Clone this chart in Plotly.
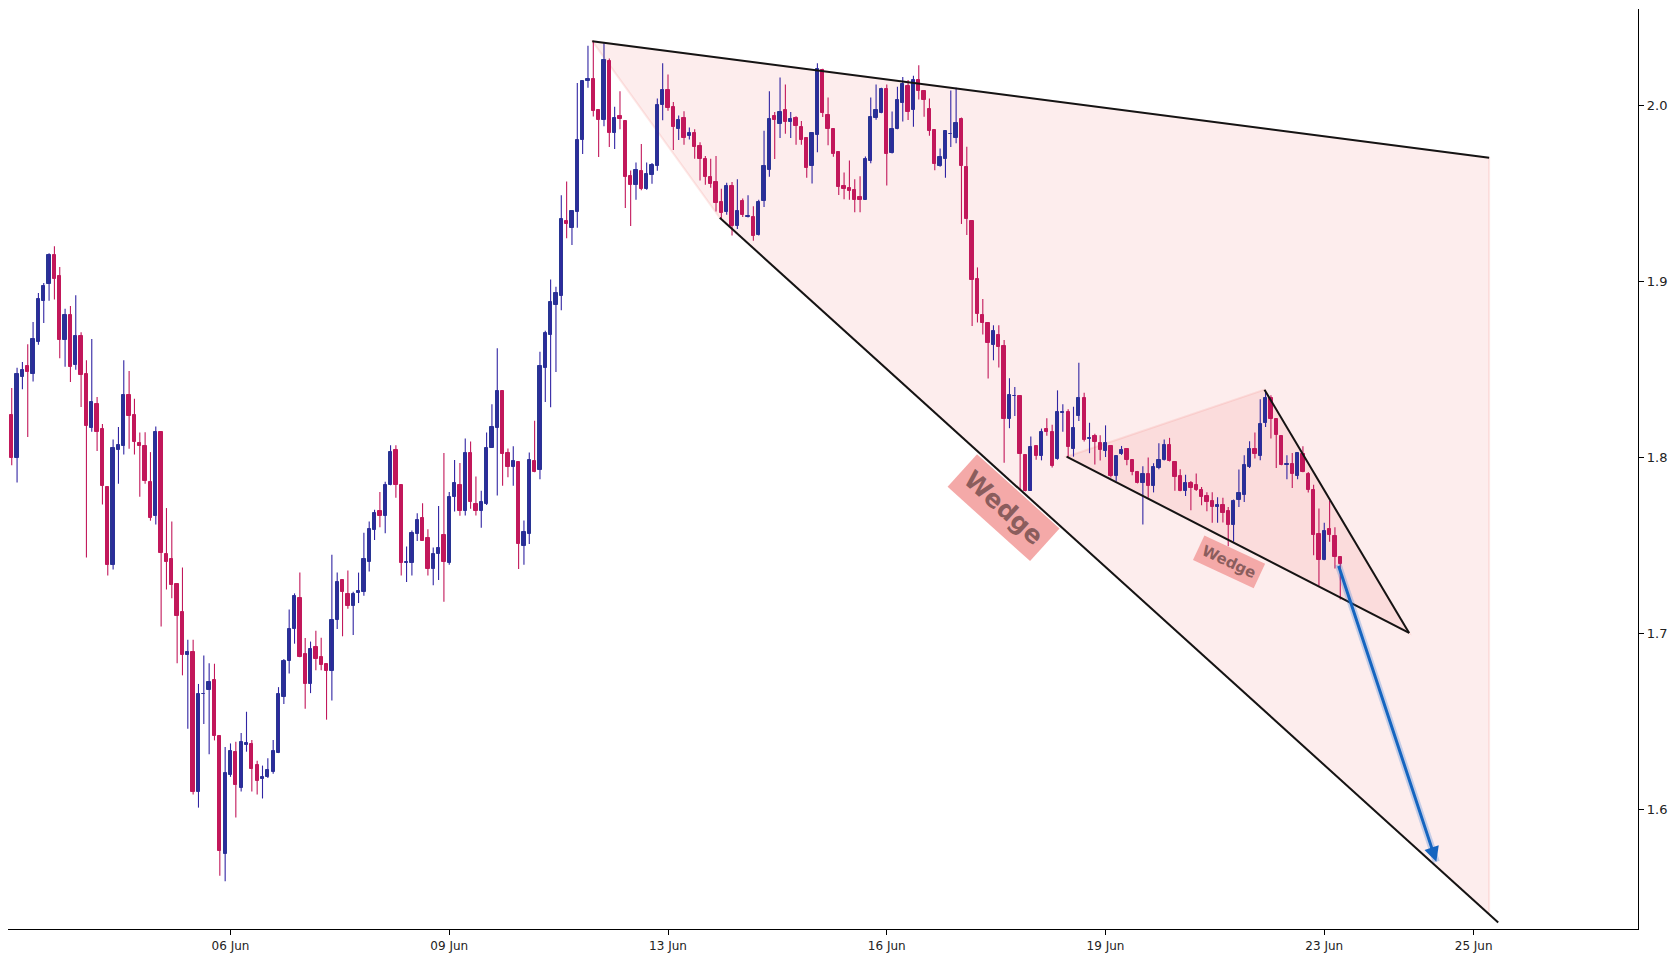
import plotly.graph_objects as go

# ---------------- data ----------------
opens = [
    1.8238, 1.7997, 1.8457, 1.8517, 1.8475, 1.8657, 1.8889, 1.8985, 1.9147, 1.9029,
    1.8667, 1.8807, 1.8526, 1.8689, 1.8472, 1.8167, 1.8302, 1.8159, 1.7829, 1.7388,
    1.8039, 1.8061, 1.8352, 1.8238, 1.8078, 1.8063, 1.7859, 1.7667, 1.8142, 1.7450,
    1.7420, 1.7280, 1.7120, 1.6878, 1.6893, 1.6099, 1.6652, 1.6679, 1.6733, 1.6415,
    1.5747, 1.6191, 1.6324, 1.6122, 1.6366, 1.6371, 1.6250, 1.6168, 1.6181, 1.6208,
    1.6321, 1.6639, 1.6839, 1.7023, 1.7198, 1.6881, 1.6708, 1.6920, 1.6863, 1.6824,
    1.6782, 1.7073, 1.7302, 1.7223, 1.7152, 1.7230, 1.7235, 1.7405, 1.7588, 1.7694,
    1.7667, 1.7842, 1.8041, 1.7842, 1.7400, 1.7400, 1.7561, 1.7654, 1.7541, 1.7366,
    1.7447, 1.7558, 1.7400, 1.7775, 1.7842, 1.7692, 1.8023, 1.7736, 1.7694, 1.7733,
    1.8055, 1.8164, 1.8379, 1.8023, 1.7944, 1.7970, 1.7498, 1.7564, 1.7979, 1.7929,
    1.8510, 1.8695, 1.8867, 1.8917, 1.9345, 1.9304, 1.9393, 1.9804, 2.0137, 2.0150,
    1.9976, 1.9919, 2.0252, 1.9843, 1.9937, 1.9911, 1.9597, 1.9549, 1.9628, 1.9523,
    1.9606, 1.9654, 2.0002, 2.0085, 1.9989, 1.9865, 1.9926, 1.9826, 1.9841, 1.9767,
    1.9697, 1.9593, 1.9565, 1.9450, 1.9395, 1.9541, 1.9315, 1.9458, 1.9365, 1.9367,
    1.9262, 1.9456, 1.9632, 1.9937, 1.9895, 1.9976, 1.9906, 1.9926, 1.9878, 1.9817,
    1.9656, 1.9834, 2.0202, 1.9945, 1.9867, 1.9737, 1.9539, 1.9532, 1.9517, 1.9478,
    1.9465, 1.9684, 1.9926, 1.9958, 2.0093, 1.9732, 1.9865, 2.0016, 2.0108, 1.9976,
    2.0146, 2.0081, 1.9978, 1.9858, 1.9655, 1.9696, 1.9836, 1.9816, 1.9921, 1.9647,
    1.9345, 1.9012, 1.8807, 1.8764, 1.8638, 1.8697, 1.8630, 1.8220, 1.8346, 1.8350,
    1.8013, 1.7810, 1.8064, 1.8007, 1.8159, 1.8145, 1.7989, 1.8254, 1.8258, 1.8047,
    1.8234, 1.8338, 1.8102, 1.8120, 1.8080, 1.8035, 1.8066, 1.7891, 1.8019, 1.8049,
    1.7982, 1.7917, 1.7855, 1.7907, 1.7836, 1.7940, 1.7984, 1.8068, 1.7970, 1.7891,
    1.7808, 1.7855, 1.7840, 1.7816, 1.7778, 1.7750, 1.7716, 1.7731, 1.7693, 1.7613,
    1.7755, 1.7784, 1.7943, 1.8049, 1.8005, 1.8195, 1.8339, 1.8219, 1.8119, 1.7954,
    1.7960, 1.7892, 1.8021, 1.7907, 1.7812, 1.7562, 1.7416, 1.7591, 1.7551, 1.7430,
]
highs = [
    1.8393, 1.8509, 1.8541, 1.8642, 1.8768, 1.8933, 1.8990, 1.9160, 1.9199, 1.9081,
    1.8844, 1.8859, 1.8921, 1.8711, 1.8551, 1.8672, 1.8342, 1.8189, 1.7832, 1.8100,
    1.8172, 1.8551, 1.8490, 1.8332, 1.8140, 1.8142, 1.8029, 1.8174, 1.8145, 1.7711,
    1.7635, 1.7282, 1.7373, 1.6962, 1.6962, 1.6711, 1.6873, 1.6829, 1.6826, 1.6418,
    1.6353, 1.6373, 1.6383, 1.6432, 1.6553, 1.6393, 1.6274, 1.6247, 1.6289, 1.6393,
    1.6693, 1.6853, 1.7134, 1.7226, 1.7344, 1.6972, 1.6952, 1.7014, 1.6974, 1.6826,
    1.7445, 1.7344, 1.7305, 1.7356, 1.7235, 1.7344, 1.7570, 1.7635, 1.7701, 1.7802,
    1.7861, 1.8068, 1.8068, 1.7845, 1.7492, 1.7583, 1.7681, 1.7738, 1.7590, 1.7487,
    1.7723, 1.8024, 1.7802, 1.7984, 1.7967, 1.8107, 1.8090, 1.7890, 1.7810, 1.8140,
    1.8301, 1.8619, 1.8381, 1.8049, 1.8062, 1.7973, 1.7640, 1.8027, 1.8208, 1.8599,
    1.8719, 1.9010, 1.8969, 1.9489, 1.9567, 1.9400, 2.0128, 2.0140, 2.0339, 2.0367,
    1.9978, 2.0354, 2.0267, 1.9993, 2.0080, 1.9913, 1.9630, 1.9676, 1.9780, 1.9676,
    1.9673, 2.0039, 2.0239, 2.0176, 2.0019, 1.9943, 1.9967, 1.9874, 1.9865, 1.9791,
    1.9713, 1.9697, 1.9713, 1.9526, 1.9560, 1.9565, 1.9580, 1.9471, 1.9489, 1.9426,
    1.9463, 1.9856, 2.0080, 1.9963, 2.0158, 2.0119, 1.9963, 1.9939, 1.9911, 1.9820,
    1.9845, 2.0239, 2.0209, 2.0045, 1.9871, 1.9739, 1.9619, 1.9687, 1.9580, 1.9597,
    1.9710, 2.0045, 2.0119, 2.0100, 2.0119, 1.9965, 2.0106, 2.0161, 2.0144, 2.0169,
    2.0228, 2.0085, 2.0039, 1.9860, 1.9755, 1.9858, 2.0085, 2.0100, 1.9931, 1.9765,
    1.9347, 1.9079, 1.8900, 1.8766, 1.8750, 1.8750, 1.8667, 1.8449, 1.8399, 1.8352,
    1.8015, 1.8118, 1.8066, 1.8163, 1.8222, 1.8185, 1.8380, 1.8301, 1.8273, 1.8287,
    1.8537, 1.8366, 1.8196, 1.8133, 1.8125, 1.8181, 1.8068, 1.8013, 1.8064, 1.8053,
    1.7984, 1.7922, 1.7948, 1.7999, 1.7966, 1.8080, 1.8100, 1.8110, 1.7972, 1.7932,
    1.7901, 1.7865, 1.7907, 1.7831, 1.7801, 1.7801, 1.7772, 1.7770, 1.7717, 1.7759,
    1.7930, 1.8011, 1.8091, 1.8140, 1.8329, 1.8371, 1.8352, 1.8221, 1.8121, 1.8011,
    1.8024, 1.8026, 1.8062, 1.7916, 1.7844, 1.7708, 1.7628, 1.7753, 1.7602, 1.7432,
]
lows = [
    1.7955, 1.7856, 1.8386, 1.8115, 1.8430, 1.8640, 1.8763, 1.8889, 1.8896, 1.8563,
    1.8514, 1.8428, 1.8497, 1.8285, 1.7430, 1.8145, 1.8036, 1.7731, 1.7327, 1.7361,
    1.7849, 1.8016, 1.8048, 1.8016, 1.7775, 1.7849, 1.7639, 1.7617, 1.7038, 1.7248,
    1.7198, 1.6829, 1.6760, 1.6457, 1.6082, 1.6008, 1.6484, 1.6311, 1.6390, 1.5621,
    1.5589, 1.6183, 1.5952, 1.6099, 1.6326, 1.6099, 1.6082, 1.6060, 1.6176, 1.6200,
    1.6318, 1.6597, 1.6770, 1.6940, 1.6863, 1.6570, 1.6659, 1.6789, 1.6789, 1.6508,
    1.6617, 1.7023, 1.6982, 1.7139, 1.6989, 1.7171, 1.7213, 1.7351, 1.7529, 1.7602,
    1.7568, 1.7840, 1.7770, 1.7327, 1.7290, 1.7327, 1.7524, 1.7524, 1.7327, 1.7272,
    1.7302, 1.7179, 1.7388, 1.7691, 1.7667, 1.7668, 1.7707, 1.7668, 1.7599, 1.7729,
    1.8053, 1.7783, 1.7838, 1.7886, 1.7838, 1.7364, 1.7388, 1.7507, 1.7914, 1.7875,
    1.8314, 1.8284, 1.8484, 1.8836, 1.9245, 1.9206, 1.9304, 1.9723, 2.0100, 1.9937,
    1.9706, 1.9882, 1.9763, 1.9752, 1.9865, 1.9417, 1.9315, 1.9463, 1.9517, 1.9521,
    1.9554, 1.9628, 1.9915, 1.9969, 1.9747, 1.9804, 1.9776, 1.9806, 1.9697, 1.9573,
    1.9549, 1.9532, 1.9397, 1.9358, 1.9378, 1.9260, 1.9297, 1.9365, 1.9363, 1.9230,
    1.9260, 1.9423, 1.9595, 1.9695, 1.9815, 1.9839, 1.9815, 1.9776, 1.9776, 1.9589,
    1.9556, 1.9734, 1.9934, 1.9774, 1.9708, 1.9491, 1.9467, 1.9463, 1.9393, 1.9393,
    1.9463, 1.9671, 1.9919, 1.9956, 1.9545, 1.9726, 1.9865, 1.9909, 1.9917, 1.9878,
    2.0033, 1.9935, 1.9828, 1.9631, 1.9651, 1.9588, 1.9763, 1.9785, 1.9326, 1.9263,
    1.8746, 1.8766, 1.8697, 1.8447, 1.8551, 1.8510, 1.7968, 1.8165, 1.8234, 1.7820,
    1.7806, 1.7808, 1.7986, 1.7982, 1.8122, 1.7942, 1.7986, 1.8145, 1.7999, 1.8003,
    1.8206, 1.8090, 1.8023, 1.7958, 1.7982, 1.8001, 1.7885, 1.7865, 1.8013, 1.7954,
    1.7897, 1.7851, 1.7617, 1.7769, 1.7800, 1.7932, 1.7982, 1.7976, 1.7810, 1.7806,
    1.7779, 1.7698, 1.7808, 1.7727, 1.7693, 1.7627, 1.7627, 1.7629, 1.7494, 1.7519,
    1.7717, 1.7746, 1.7939, 1.7992, 1.7983, 1.8172, 1.8106, 1.7939, 1.7954, 1.7875,
    1.7825, 1.7875, 1.7914, 1.7799, 1.7443, 1.7269, 1.7414, 1.7519, 1.7367, 1.7191,
]
closes = [
    1.7997, 1.8472, 1.8497, 1.8487, 1.8672, 1.8899, 1.8975, 1.9147, 1.9014, 1.8667,
    1.8807, 1.8514, 1.8689, 1.8470, 1.8179, 1.8312, 1.8145, 1.7839, 1.7388, 1.8051,
    1.8068, 1.8352, 1.8236, 1.8088, 1.8066, 1.7864, 1.7657, 1.8142, 1.7457, 1.7405,
    1.7275, 1.7100, 1.6878, 1.6893, 1.6099, 1.6654, 1.6656, 1.6723, 1.6415, 1.5759,
    1.6205, 1.6331, 1.6139, 1.6380, 1.6373, 1.6230, 1.6161, 1.6181, 1.6223, 1.6331,
    1.6654, 1.6841, 1.7023, 1.7211, 1.6866, 1.6708, 1.6910, 1.6851, 1.6821, 1.6782,
    1.7075, 1.7290, 1.7233, 1.7152, 1.7223, 1.7240, 1.7420, 1.7590, 1.7681, 1.7667,
    1.7842, 1.8029, 1.7842, 1.7400, 1.7403, 1.7568, 1.7642, 1.7526, 1.7366, 1.7450,
    1.7484, 1.7405, 1.7772, 1.7854, 1.7696, 1.8023, 1.7746, 1.7694, 1.7746, 1.8051,
    1.8171, 1.8379, 1.8018, 1.7944, 1.7979, 1.7507, 1.7577, 1.7986, 1.7918, 1.8516,
    1.8708, 1.8880, 1.8932, 1.9356, 1.9325, 1.9397, 1.9806, 2.0137, 2.0150, 1.9971,
    1.9917, 2.0256, 1.9843, 1.9928, 1.9921, 1.9591, 1.9547, 1.9632, 1.9523, 1.9608,
    1.9660, 2.0004, 2.0085, 1.9985, 1.9878, 1.9919, 1.9815, 1.9841, 1.9763, 1.9695,
    1.9593, 1.9552, 1.9445, 1.9391, 1.9541, 1.9315, 1.9399, 1.9376, 1.9371, 1.9260,
    1.9450, 1.9658, 1.9924, 1.9917, 1.9965, 1.9904, 1.9924, 1.9882, 1.9802, 1.9643,
    1.9843, 2.0209, 1.9956, 1.9865, 1.9723, 1.9536, 1.9526, 1.9515, 1.9463, 1.9463,
    1.9695, 1.9934, 1.9976, 2.0093, 1.9726, 1.9867, 2.0028, 2.0122, 1.9960, 2.0144,
    2.0081, 2.0031, 1.9854, 1.9667, 1.9708, 1.9856, 1.9840, 1.9899, 1.9655, 1.9355,
    1.9008, 1.8813, 1.8764, 1.8652, 1.8719, 1.8628, 1.8220, 1.8352, 1.8350, 1.8019,
    1.7810, 1.8060, 1.8007, 1.8145, 1.8143, 1.7952, 1.8258, 1.8258, 1.8060, 1.8165,
    1.8338, 1.8098, 1.8108, 1.8086, 1.8039, 1.8078, 1.7891, 1.8009, 1.8039, 1.7982,
    1.7915, 1.7855, 1.7905, 1.7834, 1.7942, 1.7986, 1.8068, 1.7980, 1.7887, 1.7808,
    1.7855, 1.7824, 1.7816, 1.7772, 1.7746, 1.7717, 1.7731, 1.7685, 1.7613, 1.7750,
    1.7799, 1.7958, 1.8049, 1.8017, 1.8187, 1.8339, 1.8217, 1.8125, 1.7958, 1.7960,
    1.7905, 1.8022, 1.7916, 1.7812, 1.7558, 1.7416, 1.7579, 1.7558, 1.7430, 1.7391,
]
bar_index = list(range(len(opens)))

tick_positions = [41, 82, 123, 164, 205, 246, 274]
tick_labels = ["06 Jun", "09 Jun", "13 Jun", "16 Jun", "19 Jun", "23 Jun", "25 Jun"]
price_ticks = [1.6, 1.7, 1.8, 1.9, 2.0]
price_tick_labels = ["1.6", "1.7", "1.8", "1.9", "2.0"]

# pattern anchor points (bar index, price)
big_apex = (108.8, 2.0365)
big_upper_end = (276.9, 1.9702)
big_lower_start = (132.7, 1.9361)
big_lower_end = (278.6, 1.5355)
small_lower_start = (197.7, 1.8003)
small_apex = (234.8, 1.8384)
small_end = (261.9, 1.7001)
big_label = (185.9, 1.7717, "Wedge")
small_label = (228.2, 1.7404, "Wedge")
arrow_tail = (248.6, 1.7390)
arrow_head = (267.0, 1.5700)

# ---------------- styling ----------------
UP = "#283593"
UP_WICK = "#3125a3"
DOWN = "#c2185b"
FILL = "rgba(239,83,80,0.10)"
EDGE = "rgba(239,83,80,0.13)"
LINE = "#141414"
BODY_WIDTH = 0.62

fig = go.Figure()

# wicks (one trace per colour)
for want_up, colour in [(True, UP_WICK), (False, DOWN)]:
    wx, wy = [], []
    for i, o, h, l, c in zip(bar_index, opens, highs, lows, closes):
        if (c >= o) == want_up:
            wx += [i, i, None]
            wy += [l, h, None]
    fig.add_trace(go.Scatter(x=wx, y=wy, mode="lines", line=dict(color=colour, width=1.1),
                             hoverinfo="skip", showlegend=False))

# bodies
body_base = [min(o, c) for o, c in zip(opens, closes)]
body_size = [abs(c - o) for o, c in zip(opens, closes)]
body_colour = [UP if c >= o else DOWN for o, c in zip(opens, closes)]
fig.add_trace(go.Bar(x=bar_index, y=body_size, base=body_base, width=BODY_WIDTH,
                     marker=dict(color=body_colour, line=dict(color=body_colour, width=1)),
                     hoverinfo="skip", showlegend=False))


def lower_at(x):
    (x0, y0), (x1, y1) = big_lower_start, big_lower_end
    return y0 + (y1 - y0) * (x - x0) / (x1 - x0)


def path(points):
    return "M " + " L ".join(f"{px},{py}" for px, py in points) + " Z"


shapes = []
shapes.append(dict(type="path", xref="x", yref="y", layer="below",
                   path=path([big_apex, big_upper_end,
                              (big_upper_end[0], lower_at(big_upper_end[0])),
                              big_lower_start]),
                   fillcolor=FILL, line=dict(color=EDGE, width=2)))
shapes.append(dict(type="path", xref="x", yref="y", layer="below",
                   path=path([small_lower_start, small_apex, small_end]),
                   fillcolor="rgba(239,83,80,0.10)", line=dict(color=EDGE, width=2)))
for a, b in [(big_apex, big_upper_end), (big_lower_start, big_lower_end),
             (small_lower_start, small_end), (small_apex, small_end)]:
    shapes.append(dict(type="line", xref="x", yref="y", layer="above",
                       x0=a[0], y0=a[1], x1=b[0], y1=b[1],
                       line=dict(color=LINE, width=2)))
shapes.append(dict(type="line", xref="x", yref="y", layer="above",
                   x0=arrow_tail[0], y0=arrow_tail[1], x1=arrow_head[0], y1=arrow_head[1],
                   line=dict(color="rgba(30,110,210,0.25)", width=7)))

annotations = [
    dict(x=big_label[0], y=big_label[1], xref="x", yref="y", text="<b>" + big_label[2] + "</b>",
         showarrow=False, textangle=42, bgcolor="#f4a9a8", borderpad=7,
         font=dict(family="DejaVu Sans", size=25, color="rgba(120,80,80,0.85)")),
    dict(x=small_label[0], y=small_label[1], xref="x", yref="y", text="<b>" + small_label[2] + "</b>",
         showarrow=False, textangle=25, bgcolor="#f4a9a8", borderpad=4,
         font=dict(family="DejaVu Sans", size=15, color="rgba(120,80,80,0.85)")),
    dict(x=arrow_head[0], y=arrow_head[1], xref="x", yref="y",
         ax=arrow_tail[0], ay=arrow_tail[1], axref="x", ayref="y",
         text="", showarrow=True, arrowhead=2, arrowsize=1, arrowwidth=3,
         arrowcolor="#1565c0", standoff=0, startstandoff=0),
]

fig.update_layout(
    width=1680, height=960,
    margin=dict(l=8, r=42, t=9, b=31, pad=0),
    paper_bgcolor="white", plot_bgcolor="white",
    shapes=shapes, annotations=annotations,
    showlegend=False, bargap=0,
    font=dict(family="DejaVu Sans", color="#222"),
    xaxis=dict(range=[-0.7, 304.8], tickmode="array", tickvals=tick_positions, ticktext=tick_labels,
               showgrid=False, zeroline=False, showline=True, linecolor="black", linewidth=1.3,
               ticks="outside", ticklen=5, tickcolor="black", tickwidth=1,
               tickfont=dict(size=12, family="DejaVu Sans", color="#222"), fixedrange=True),
    yaxis=dict(range=[1.5318, 2.0548], side="right", tickmode="array", tickvals=price_ticks,
               ticktext=price_tick_labels, showgrid=False, zeroline=False, showline=True,
               linecolor="black", linewidth=1.3, ticks="outside", ticklen=5, tickcolor="black",
               tickwidth=1, tickfont=dict(size=13, family="DejaVu Sans", color="#222"),
               fixedrange=True),
)

fig.write_html("out.html")
